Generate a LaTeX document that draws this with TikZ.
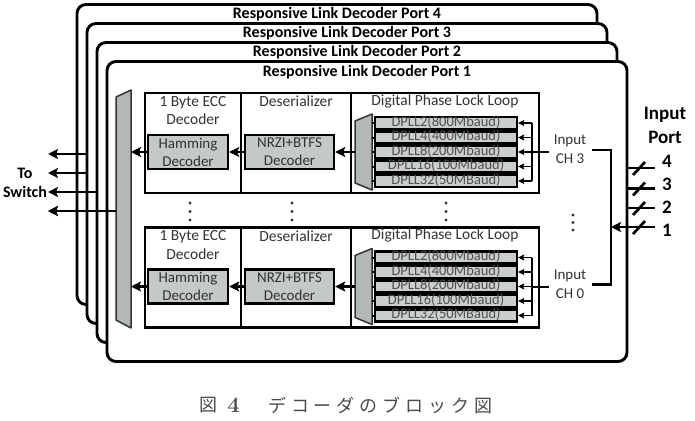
\documentclass[tikz,border=0pt]{standalone}
\usepackage{fontspec}
\setmainfont{Carlito}
\newfontfamily\cjk{Noto Sans CJK JP}
\newfontfamily\lmr{Latin Modern Roman}
\usetikzlibrary{arrows.meta}
\definecolor{txt}{HTML}{333333}
\definecolor{boxgray}{HTML}{C4C8C8}
\definecolor{muxgray}{HTML}{B2B7B7}
\definecolor{dpllgray}{HTML}{CACECE}
\definecolor{dplltxt}{HTML}{505050}
\definecolor{captxt}{HTML}{4A4A4A}
\newcommand{\capsp}{\hspace{4.9pt}}
\tikzset{
 portbox/.style={draw=black, line width=2.9pt, fill=white, rounded corners=9pt, minimum width=520pt, minimum height=300pt, inner sep=0pt},
 porttitle/.style={font=\bfseries\fontsize{16pt}{19pt}\selectfont, inner sep=0pt},
 blockbox/.style={draw=black, line width=2.4pt, inner sep=0pt, minimum height=100pt},
 hdr/.style={font=\fontsize{15.5pt}{18.5pt}\selectfont, text=txt, align=center, inner sep=0pt},
 decbox/.style={draw=black, line width=2.4pt, fill=boxgray, minimum height=34pt, inner sep=0pt, align=center, text=txt, font=\fontsize{15pt}{18pt}\selectfont},
 dpllrow/.style={draw=black, line width=2.4pt, fill=dpllgray, minimum width=142pt, minimum height=12pt, inner sep=0pt, text height=8pt, text depth=2pt, text=dplltxt, font=\fontsize{14.5pt}{17pt}\selectfont},
 mux/.style={draw=black!80, line width=1.5pt, fill=muxgray, line join=round},
 arr/.style={line width=2.9pt, -{Stealth[length=10pt,width=10pt,inset=2pt]}},
 smallarr/.style={line width=1.8pt, -{Stealth[length=6pt,width=6pt,inset=1pt]}},
 wire/.style={line width=2.7pt},
 thinwire/.style={line width=2pt},
 lbl/.style={font=\bfseries\fontsize{16pt}{19pt}\selectfont, inner sep=0pt, align=center},
 biglbl/.style={font=\bfseries\fontsize{19pt}{24pt}\selectfont, inner sep=0pt, align=center},
 chlbl/.style={font=\fontsize{15pt}{19pt}\selectfont, text=txt, inner sep=0pt, align=center},
 vdot/.style={fill=txt, circle, inner sep=0pt, minimum size=3.2pt},
}
\begin{document}
\begin{tikzpicture}[x=1pt,y=-1pt]
\useasboundingbox (0,0) rectangle (695,420);

% port 4
\node[portbox] (p4) at (337,154.5) {};
\node[porttitle] (t4) at (337,14) {Responsive Link Decoder Port 4};
\coordinate (o4s) at (87,154); \coordinate (o4e) at (48,154);
\draw[arr] (o4s) -- (o4e);
% port 3
\node[portbox] (p3) at (347,173.5) {};
\node[porttitle] (t3) at (347,33) {Responsive Link Decoder Port 3};
\coordinate (o3e) at (48,173);
\draw[arr] (p3.west |- o3e) -- (o3e);
% port 2
\node[portbox] (p2) at (357,192.5) {};
\node[porttitle] (t2) at (357,52) {Responsive Link Decoder Port 2};
\coordinate (o2e) at (48,192);
\draw[arr] (p2.west |- o2e) -- (o2e);
% port 1
\node[portbox] (p1) at (367,211.5) {};
\node[porttitle] (t1) at (367,72) {Responsive Link Decoder Port 1};
\coordinate (o1e) at (48,211);
\draw[arr] (p1.west |- o1e) -- (o1e);

% big output mux
\draw[mux] (116,97) -- (131,90) -- (131,328) -- (116,320) -- cycle;
\coordinate (bigR) at (131,209);
\coordinate (bigL) at (116,211);
\coordinate (o0e) at (48,211);
\draw[arr] (bigL) -- (o0e);

\node[lbl] (sw) at (25,182.5) {To\\Switch};

% decoder blocks
\foreach \b/\dy/\cn in {u/0/3, l/134.5/0} {
  \node[blockbox, minimum width=96pt] (ecc\b) at (193,143+\dy) {};
  \node[blockbox, minimum width=110pt] (des\b) at (296,143+\dy) {};
  \node[blockbox, minimum width=188pt] (dpl\b) at (445,143+\dy) {};
  \node[hdr] (ecch\b) at (193,110.5+\dy) {1 Byte ECC\\Decoder};
  \node[hdr] (desh\b) at (296,101.5+\dy) {Deserializer};
  \node[hdr] (dplh\b) at (445,101+\dy) {Digital Phase Lock Loop};
  \node[decbox, minimum width=80pt] (ham\b) at (188,152+\dy) {Hamming\\Decoder};
  \node[decbox, minimum width=89pt] (nrz\b) at (289.5,152+\dy) {NRZI+BTFS\\Decoder};
  \draw[mux] (355,121+\dy) -- (372,114+\dy) -- (372,190+\dy) -- (355,183+\dy) -- cycle;
  \coordinate (mxl\b) at (355,152+\dy);
  \coordinate (mxr\b) at (372,152+\dy);
  \coordinate (bt\b) at (532,123+\dy);
  \coordinate (bb\b) at (532,181+\dy);
  \draw[thinwire] (bt\b) -- (bb\b);
  \foreach \lab [count=\i] in {DPLL2(800Mbaud),DPLL4(400Mbaud),DPLL8(200Mbaud),DPLL16(100Mbaud),DPLL32(50MBaud)} {
    \node[dpllrow] (r\b\i) at (446,108.5+14.5*\i+\dy) {\lab};
    \draw[thinwire] (r\b\i.west -| mxr\b) -- (r\b\i.west);
    \draw[smallarr] (r\b\i.east -| bt\b) -- (r\b\i.east);
  }
  \draw[arr] (mxl\b) -- (nrz\b.east);
  \draw[arr] (nrz\b.west) -- (ham\b.east);
  \draw[arr] (ham\b.west) -- (ham\b.west -| bigR);
  \node[chlbl] (ch\b) at (570,149.5+\dy) {Input\\CH \cn};
  \coordinate (in\b) at (549,152+\dy);
  \draw[thinwire] (in\b) -- (in\b -| bt\b);
  \coordinate (out\b) at (592,150+\dy);
}
\coordinate (jn) at (611,200);
\draw[wire] (outu) -- (outu -| jn) -- (outl -| jn) -- (outl);

% vertical dots
\foreach \x/\y [count=\i] in {190/203,190/211.5,190/220,292/203,292/211.5,292/220,446/203,446/211.5,446/220,573/215,573/222.5,573/230} {
  \node[vdot] (dt\i) at (\x,\y) {};
}

% input ports
\node[biglbl] (ip) at (665,125) {Input\\Port};
\coordinate (pl4) at (655,168);
\coordinate (pl3) at (655,188.5);
\coordinate (pl2) at (655,208);
\coordinate (pl1) at (655,227);
\draw[wire] (pl4) -- (pl4 -| p1.east);
\draw[wire] (pl3) -- (pl3 -| p1.east);
\draw[wire] (pl2) -- (pl2 -| p1.east);
\draw[arr] (pl1) -- (pl1 -| jn);
\foreach \y in {168,188.5,208,227} {
  \draw[wire] (633,\y+7) -- (645,\y-6);
}
\node[biglbl] (n4) at (667,161) {4};
\node[biglbl] (n3) at (667,184) {3};
\node[biglbl] (n2) at (667,207) {2};
\node[biglbl] (n1) at (667,230) {1};

% caption
\node[inner sep=0pt, text=captxt, font=\cjk\fontsize{18pt}{20pt}\selectfont] (cap1) at (208.5,405) {図};
\node[inner sep=0pt, text=captxt, font=\lmr\bfseries\fontsize{22pt}{24pt}\selectfont] (cap2) at (233.5,405) {4};
\node[inner sep=0pt, text=captxt, anchor=west, font=\cjk\fontsize{18pt}{20pt}\selectfont] (cap3) at (268,405) {デ\capsp コ\capsp ー\capsp ダ\capsp の\capsp ブ\capsp ロ\capsp ッ\capsp ク\capsp 図};
\end{tikzpicture}
\end{document}
